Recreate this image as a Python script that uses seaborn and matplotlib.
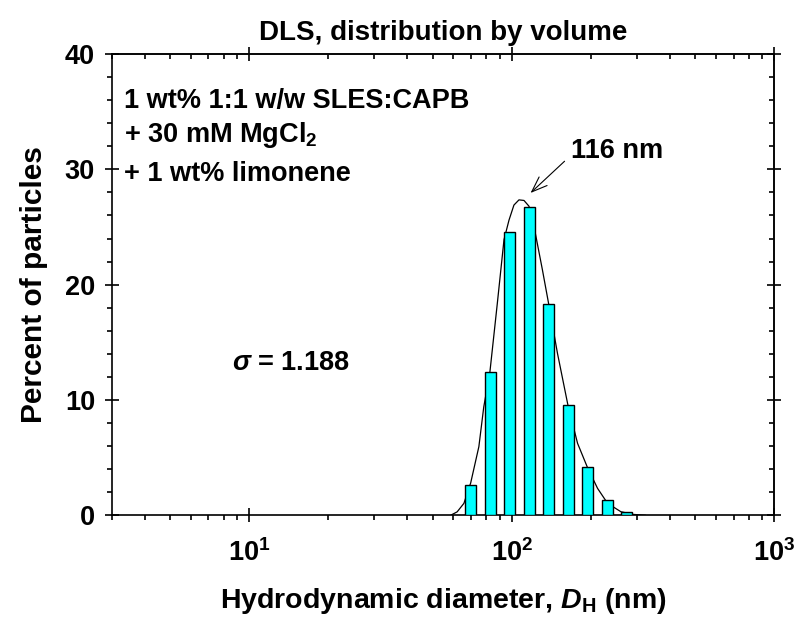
import numpy as np
import matplotlib
matplotlib.use("Agg")
import matplotlib.pyplot as plt
import seaborn as sns
from matplotlib.ticker import FixedLocator, LogLocator, MultipleLocator, NullFormatter

# ---- data ----
bar_diam = [69.8, 82.6, 98.0, 116.4, 138.4, 163.9, 194.2, 230.5, 273.2]   # nm
bar_pct = [2.63, 12.4, 24.6, 26.7, 18.3, 9.6, 4.2, 1.3, 0.3]              # %

curve_diam = [58.5, 62.0, 65.8, 69.8, 75.0, 78.3, 82.6, 88.2, 93.5, 97.7, 102.0,
              106.6, 111.4, 116.4, 122.7, 130.9, 138.4, 149.4, 163.6, 178.2,
              194.0, 212.3, 231.8, 260.6, 290.0, 324.0]
curve_pct = [0.0, 0.3, 1.04, 2.8, 5.95, 9.4, 12.4, 18.4, 23.9, 25.6, 26.9,
             27.35, 27.3, 26.8, 24.6, 21.3, 18.3, 14.05, 9.6, 6.24,
             4.19, 2.34, 1.04, 0.31, 0.08, 0.0]

y_ticks = [0, 10, 20, 30, 40]
x_ticks = [10, 100, 1000]
x_ticklabels = [r"$\mathbf{10^{1}}$", r"$\mathbf{10^{2}}$", r"$\mathbf{10^{3}}$"]

peak_label = "116 nm"
peak_tip = (118, 27.95)
peak_tail = (159, 30.7)
peak_text_pos = (168, 31.6)
sigma_text = r"$\sigma$ = 1.188"

sns.set_style("ticks")
plt.rcParams["font.family"] = ["Liberation Sans", "DejaVu Sans"]
plt.rcParams["font.weight"] = "bold"
plt.rcParams["text.color"] = "black"
plt.rcParams["axes.labelcolor"] = "black"
plt.rcParams["xtick.color"] = "black"
plt.rcParams["ytick.color"] = "black"
plt.rcParams["mathtext.fontset"] = "custom"
plt.rcParams["mathtext.rm"] = "Liberation Sans:bold"
plt.rcParams["mathtext.bf"] = "Liberation Sans:bold"
plt.rcParams["mathtext.it"] = "Liberation Sans:bold:italic"
plt.rcParams["mathtext.sf"] = "Liberation Sans:bold"

fig = plt.figure(figsize=(7.98, 6.19), dpi=100)
ax = fig.add_axes([0.140, 0.1675, 0.8303, 0.7453])

lw_ax = 1.2
step = (np.log10(bar_diam[-1]) - np.log10(bar_diam[0])) / (len(bar_diam) - 1)
sns.histplot(x=bar_diam, weights=bar_pct, log_scale=True, binwidth=step,
             binrange=(np.log10(bar_diam[0]) - step / 2, np.log10(bar_diam[-1]) + step / 2),
             shrink=0.57, color="#00FFFF", edgecolor="black", linewidth=1.0,
             alpha=1, ax=ax, zorder=3)
sns.lineplot(x=curve_diam, y=curve_pct, color="black", linewidth=0.9, ax=ax,
             zorder=2, sort=True)

ax.set_xscale("log")
ax.set_xlim(3, 1000)
ax.set_ylim(0, 40)

ax.xaxis.set_major_locator(FixedLocator(x_ticks))
ax.set_xticklabels(x_ticklabels)
ax.xaxis.set_minor_locator(LogLocator(base=10, subs=np.arange(2, 10)))
ax.xaxis.set_minor_formatter(NullFormatter())
ax.set_yticks(y_ticks)
ax.yaxis.set_minor_locator(MultipleLocator(2))

for s in ax.spines.values():
    s.set_linewidth(lw_ax)
    s.set_color("black")

tick_fs = 19.5
ax.tick_params(which="major", direction="inout", length=10, width=lw_ax,
               labelsize=tick_fs, colors="black")
ax.tick_params(axis="x", which="major", pad=12)
ax.tick_params(axis="y", which="major", pad=7)
ax.tick_params(which="minor", direction="out", length=3.5, width=lw_ax)
for lab in ax.get_yticklabels():
    lab.set_fontweight("bold")

# top / right mirrored ticks (pointing the same way as bottom / left)
secx = ax.secondary_xaxis("top")
secx.set_xscale("log")
secx.xaxis.set_major_locator(FixedLocator(x_ticks))
secx.xaxis.set_minor_locator(LogLocator(base=10, subs=np.arange(2, 10)))
secx.tick_params(which="major", direction="inout", length=10, width=lw_ax, labeltop=False)
secx.tick_params(which="minor", direction="in", length=3.5, width=lw_ax)
secx.xaxis.set_minor_formatter(NullFormatter())
secx.spines["top"].set_linewidth(lw_ax)

secy = ax.secondary_yaxis("right")
secy.set_yticks(y_ticks)
secy.yaxis.set_minor_locator(MultipleLocator(2))
secy.tick_params(which="major", direction="inout", length=10, width=lw_ax, labelright=False)
secy.tick_params(which="minor", direction="in", length=3.5, width=lw_ax)
secy.spines["right"].set_linewidth(lw_ax)

ax.set_xlabel(r"Hydrodynamic diameter, $D_\mathrm{H}$ (nm)", fontsize=20.5,
              fontweight="bold", labelpad=14)
ax.set_ylabel("Percent of particles", fontsize=21.5, fontweight="bold", labelpad=12)
ax.set_title("DLS, distribution by volume", fontsize=20, fontweight="bold", pad=10)

ann_fs = 19.5
ax.text(3.34, 35.9, "1 wt% 1:1 w/w SLES:CAPB", fontsize=ann_fs, fontweight="bold",
        va="center", ha="left")
ax.text(3.34, 33.0, r"+ 30 mM MgCl$_\mathrm{2}$", fontsize=ann_fs, fontweight="bold",
        va="center", ha="left")
ax.text(3.34, 29.6, "+ 1 wt% limonene", fontsize=ann_fs, fontweight="bold",
        va="center", ha="left")
ax.text(8.6, 13.2, sigma_text, fontsize=ann_fs, fontweight="bold", va="center", ha="left")

ax.text(peak_text_pos[0], peak_text_pos[1], peak_label, fontsize=ann_fs,
        fontweight="bold", va="center", ha="left")
ax.annotate("", xy=peak_tip, xytext=peak_tail,
            arrowprops=dict(arrowstyle="->,head_length=0.8,head_width=0.3",
                            lw=0.8, color="black", shrinkA=0, shrinkB=0,
                            mutation_scale=14))

fig.savefig("out.png", dpi=100)
